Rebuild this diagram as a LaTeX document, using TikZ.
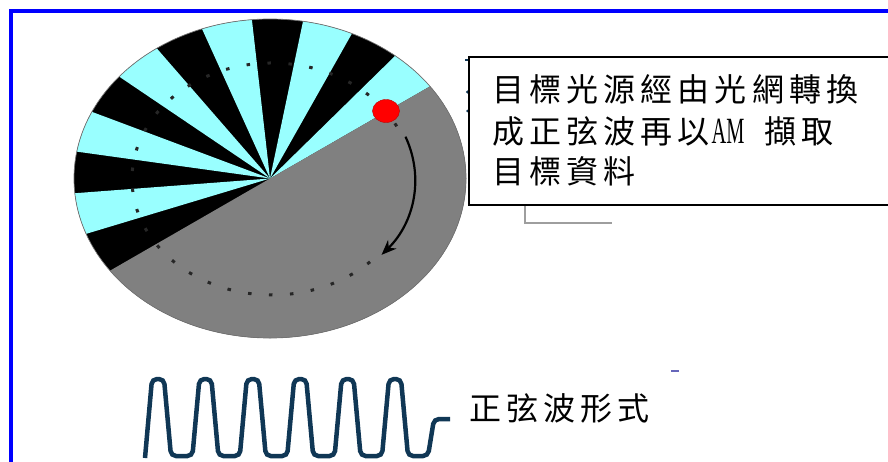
\documentclass[tikz,border=0pt]{standalone}
\usepackage{fontspec}
\newfontfamily\cjkfont[LetterSpace=16]{Noto Sans CJK TC}
\newfontfamily\latinfont{Liberation Serif}
\usetikzlibrary{arrows.meta}
\definecolor{fancyan}{HTML}{99FFFF}
\definecolor{discgray}{HTML}{808080}
\definecolor{wavenavy}{HTML}{103755}
\definecolor{frameblue}{HTML}{0000FF}
\tikzset{
  cjktext/.style={inner sep=0pt, anchor=base west, font=\cjkfont\fontsize{32}{38}\selectfont},
  latintext/.style={inner sep=0pt, anchor=base, font=\latinfont\fontsize{37}{40}\selectfont, xscale=0.55, transform shape},
  track/.style={black!85, line width=3pt, dash pattern=on 3.5pt off 17.5pt},
  spin/.style={line width=2.2pt, -{Stealth[length=15pt,width=12pt]}},
  wave/.style={wavenavy, line width=4.5pt, rounded corners=5pt},
}
\begin{document}
\begin{tikzpicture}[x=1pt,y=1pt]
\useasboundingbox (0,0) rectangle (888,-461);
\begin{scope}
\clip (0,0) rectangle (888,-461);

% outer frame
\draw[frameblue, line width=4pt] (11.3,-10.5) rectangle (900,-480);

% rotating disc: black base, cyan spokes, grey half
\coordinate (C) at (270,-178.5);
\fill[black] (C) ellipse [x radius=196pt, y radius=159.5pt];
\foreach \i [evaluate=\i as \a using 35.3+15*\i] in {0,2,4,6,8,10}
  \fill[fancyan] (C) -- ++(\a:196pt and 159.5pt)
    arc[start angle=\a, delta angle=15, x radius=196pt, y radius=159.5pt] -- cycle;
\fill[discgray] (C) -- ++(35.3:196pt and 159.5pt)
  arc[start angle=35.3, delta angle=-180, x radius=196pt, y radius=159.5pt] -- cycle;
\draw[line width=0.7pt, black!55] (C) ellipse [x radius=196pt, y radius=159.5pt];

% dotted track and direction of rotation
\coordinate (T) at (272,-179);
\draw[track] (T) ++(27:140pt and 116pt)
  arc[start angle=27, end angle=322, x radius=140pt, y radius=116pt];
\draw[spin] (T) ++(21:143pt and 118pt)
  arc[start angle=21, end angle=-40, x radius=143pt, y radius=118pt];
\fill[red, draw=red!75!black, line width=0.4pt] (386,-111) ellipse [x radius=13.5pt, y radius=11.5pt];

% small marks beside the box
\draw[wavenavy, line width=1.2pt] (465,-60) -- (469,-60);
\fill[wavenavy] (467.5,-92) circle (1.6pt);
\fill[wavenavy] (467.5,-111) circle (1.4pt);
\draw[black!38, line width=1.3pt] (525,-205) -- (525,-223) -- (612,-223);

% description box
\draw[line width=1.5pt, fill=white] (469,-57) rectangle (900,-205);
\node[cjktext] (l1) at (492,-101) {目標光源經由光網轉換};
\node[cjktext] (l2a) at (492,-143) {成正弦波再以};
\node[latintext] (l2b) at (728,-143) {AM};
\node[cjktext] (l2c) at (764,-143) {擷取};
\node[cjktext] (l3) at (492,-183) {目標資料};

% square-ish wave form
\draw[wave] (145,-458) -- (152,-379) -- (164,-379) -- (171,-456)
  \foreach \c in {205.4,252.8,300.2,347.6,395} {
    -- (\c-13,-456) -- (\c-6,-379) -- (\c+6,-379) -- (\c+13,-456)
  }
  -- (428,-456) -- (434,-419) -- (450,-419);
\draw[black!45!blue!60, line width=1.2pt] (671,-371) -- (679,-371);
\node[cjktext] (label) at (469,-420) {正弦波形式};
\end{scope}
\end{tikzpicture}
\end{document}
